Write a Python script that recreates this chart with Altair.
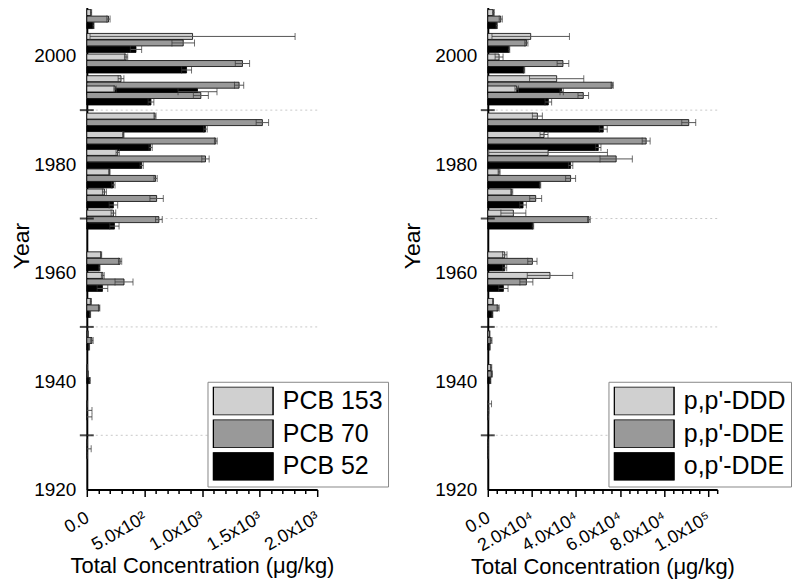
import json
import altair as alt
import pandas as pd

# ---- data ----
years = [2006.8, 2002.4, 1998.6, 1994.6, 1992.7, 1987.7, 1984.3, 1981.0,
         1977.4, 1973.7, 1969.8, 1962.1, 1958.3, 1953.5, 1947.5, 1941.3,
         1934.6, 1927.5]

pcb_names = ["PCB 153", "PCB 70", "PCB 52"]
pcb153 = [37, 918, 341, 297, 245, 592, 317, 268, 196, 153, 231, 124, 139, 35, 10, 5, 3, 2]
pcb153_err = [5, 890, 14, 25, 10, 9, 6, 14, 6, 17, 20, 5, 12, 5, 3, 2, 2, 1]
pcb70 = [188, 837, 1351, 1322, 990, 1524, 1120, 1030, 597, 606, 626, 289, 323, 107, 45, 10, 5, 3]
pcb70_err = [14, 98, 62, 40, 65, 54, 12, 32, 14, 58, 29, 14, 78, 6, 10, 3, 40, 35]
pcb52 = [58, 427, 866, 961, 557, 1030, 554, 476, 231, 231, 240, 110, 136, 29, 20, 25, 5, 2]
pcb52_err = [5, 49, 43, 169, 25, 15, 14, 14, 14, 37, 40, 5, 46, 4, 4, 5, 40, 2]

ddt_names = ["p,p'-DDD", "p,p'-DDE", "o,p'-DDE"]
ppddd = [2560, 19460, 5130, 31220, 13120, 22480, 25500, 27350, 5130, 10860, 11600, 7690, 28200, 2410, 800, 1500, 200, 100]
ppddd_err = [400, 17560, 1800, 12300, 800, 2260, 1800, 26900, 450, 450, 5660, 1000, 10300, 200, 200, 300, 1500, 100]
ppdde = [5880, 17500, 34080, 56400, 43300, 91100, 71800, 58200, 37550, 21720, 45850, 20220, 17500, 4680, 1500, 1800, 200, 100]
ppdde_err = [700, 700, 2640, 500, 2400, 3170, 1800, 7330, 2260, 2700, 600, 2100, 2940, 500, 400, 300, 300, 100]
opdde = [4070, 9650, 16440, 33490, 27450, 52350, 50100, 37550, 23700, 15990, 20500, 7690, 7090, 2110, 900, 1200, 200, 100]
opdde_err = [300, 300, 300, 750, 1500, 1800, 1200, 1000, 300, 1500, 300, 900, 2100, 200, 200, 200, 200, 100]

pcb_tick_labels = ["0.0", "5.0x10²", "1.0x10³", "1.5x10³", "2.0x10³"]
ddt_tick_labels = ["0.0", "2.0x10⁴", "4.0x10⁴", "6.0x10⁴", "8.0x10⁴", "1.0x10⁵"]
year_labels = [1920, 1940, 1960, 1980, 2000]
grid_years = [1930, 1950, 1970, 1990]
cross_years = [1930, 1950, 1970, 1990, 2010]

FONT = "Liberation Sans"
COLORS = ["#d0d0d0", "#999999", "#000000"]


def long_table(names, vals, errs):
    rows = []
    for i, yr in enumerate(years):
        for k, nm in enumerate(names):
            rows.append({"year": yr, "series": nm, "k": k,
                         "value": vals[k][i], "err": errs[k][i], "order": i * 3 + k})
    return pd.DataFrame(rows)


def panel(df, names, xmax, step, major, labels, width, ytitle_pad):
    yscale = alt.Scale(domain=[1920, 2010], nice=False, zero=False, padding=0)
    xscale = alt.Scale(domain=[0, xmax], nice=False, zero=True, padding=0)
    base = alt.Chart(df).transform_calculate(
        ypos="datum.year + (1 - datum.k) * 1.2",
        lo="max(0, datum.value - datum.err)",
        hi="datum.value + datum.err",
    )
    xaxis = alt.Axis(
        values=list(range(0, xmax + 1, step)),
        labelExpr=f"datum.value % {major} === 0 ? {json.dumps(labels, ensure_ascii=False)}[round(datum.value / {major})] : ''",
        labelAngle=330, labelAlign="right", labelBaseline="top",
        labelFontSize=18, labelPadding=12, labelOffset=-4,
        labelOverlap=False, labelFlush=False,
        tickSize={"condition": {"test": f"datum.value % {major} === 0", "value": 7}, "value": 4},
        tickColor="black", tickWidth=1.5,
        domainColor="black", domainWidth=2, grid=False,
        title="Total Concentration (μg/kg)", titleFontSize=22, titlePadding=2,
        titleFontWeight="normal",
    )
    yaxis = alt.Axis(
        values=year_labels, format="d",
        ticks=False, labelPadding=11, labelFontSize=19,
        domainColor="black", domainWidth=2, grid=False,
        title="Year", titleFontSize=23, titlePadding=ytitle_pad,
        titleFontWeight="normal",
    )
    # legend symbols: wide rectangles (60 x 28.5 px)
    legend = alt.Legend(
        orient="none", legendX=121, legendY=381, title=None,
        symbolType="M-2.105,-1H2.105V1H-2.105Z", symbolSize=812,
        symbolOffset=15.75, labelOffset=24.75, clipHeight=28.5,
        symbolStrokeColor="black", symbolStrokeWidth=1.5, symbolOpacity=1,
        labelFontSize=25, labelFont=FONT, labelColor="black",
        fillColor="white", strokeColor="#888888", padding=5,
        rowPadding=3.8,
    )
    grid = alt.Chart(pd.DataFrame({"g": grid_years})).mark_rule(
        color="#c8c8c8", strokeDash=[2, 3], strokeWidth=1
    ).encode(y=alt.Y("g:Q", scale=yscale, axis=yaxis))
    bars = base.mark_bar(orient="horizontal", size=6, stroke="black", strokeWidth=0.8).encode(
        y=alt.Y("ypos:Q", scale=yscale, axis=yaxis),
        x=alt.X("value:Q", scale=xscale, axis=xaxis),
        color=alt.Color("series:N", scale=alt.Scale(domain=names, range=COLORS), legend=legend),
        order=alt.Order("order:Q"),
    )
    rules = base.mark_rule(color="#555555", strokeWidth=1).encode(
        y=alt.Y("ypos:Q", scale=yscale, axis=yaxis),
        x=alt.X("lo:Q", scale=xscale, axis=xaxis),
        x2="hi:Q",
    )
    cap_lo = base.mark_tick(orient="vertical", size=7, thickness=1, color="#333333").encode(
        y=alt.Y("ypos:Q", scale=yscale, axis=yaxis),
        x=alt.X("lo:Q", scale=xscale, axis=xaxis),
    )
    cap_hi = base.mark_tick(orient="vertical", size=7, thickness=1, color="#333333").encode(
        y=alt.Y("ypos:Q", scale=yscale, axis=yaxis),
        x=alt.X("hi:Q", scale=xscale, axis=xaxis),
    )
    cross = alt.Chart(pd.DataFrame({"yr": cross_years})).mark_tick(
        orient="horizontal", size=14, thickness=2, color="black"
    ).encode(
        y=alt.Y("yr:Q", scale=yscale, axis=yaxis),
        x=alt.value(0),
    )
    return alt.layer(grid, bars, rules, cap_lo, cap_hi, cross).properties(
        width=width, height=489, view=alt.ViewBackground(stroke="transparent")
    )


pcb_df = long_table(pcb_names, [pcb153, pcb70, pcb52], [pcb153_err, pcb70_err, pcb52_err])
ddt_df = long_table(ddt_names, [ppddd, ppdde, opdde], [ppddd_err, ppdde_err, opdde_err])

left = panel(pcb_df, pcb_names, 2000, 100, 500, pcb_tick_labels, 231, 0)
right = panel(ddt_df, ddt_names, 104000, 4000, 20000, ddt_tick_labels, 230, 10)

chart = alt.hconcat(
    left, right, spacing=171, bounds="flush",
    padding={"left": 2, "top": -8, "right": 0, "bottom": 0},
).resolve_scale(color="independent").configure(font=FONT).configure_view(
    stroke="transparent", strokeWidth=0
).configure_axis(
    labelFont=FONT, titleFont=FONT, labelColor="black", titleColor="black",
    titleFontWeight="normal",
).configure_scale(continuousPadding=0)

chart.save("out.html", embed_options={"renderer": "svg", "actions": False})
